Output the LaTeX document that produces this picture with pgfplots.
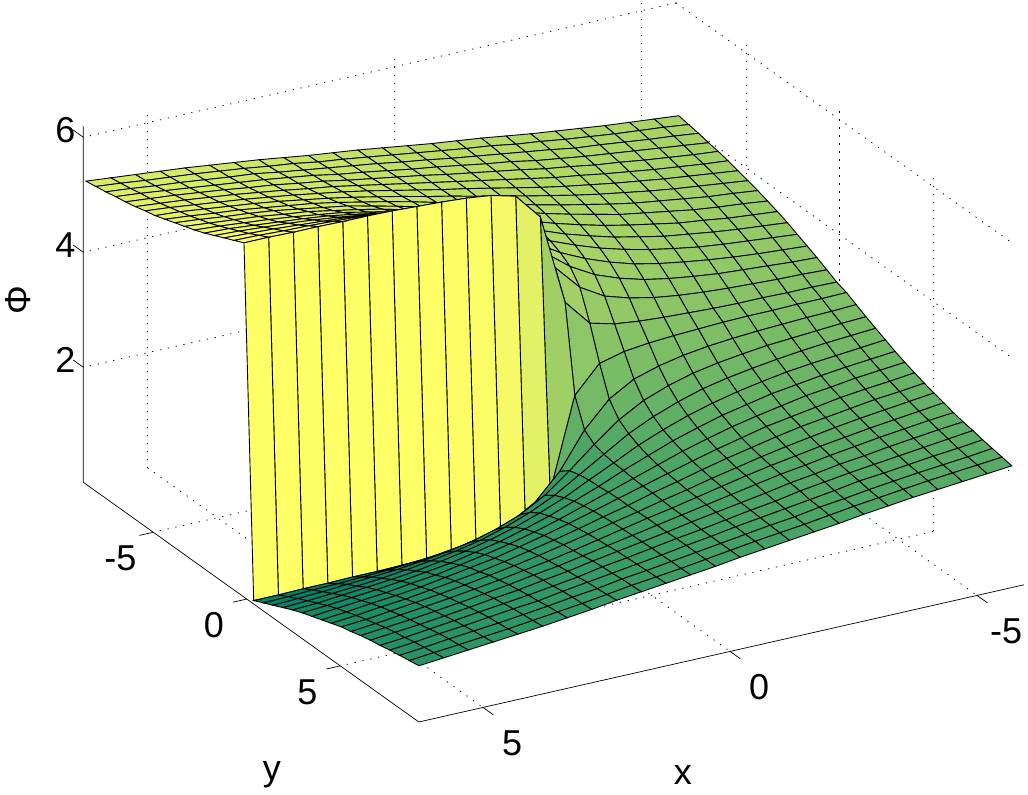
\documentclass[border=0pt]{standalone}
\usepackage{pgfplots}
\pgfplotsset{compat=1.18}
\usepackage{fontspec}
\setmainfont{Liberation Sans}
\begin{document}
\begin{tikzpicture}
\useasboundingbox (0,0) rectangle (514pt,397pt);
\begin{axis}[
  at={(279pt,132.75pt)},anchor=origin,
  x={(-24.7pt,-5.6pt)},y={(9.35pt,-6.68pt)},z={(0pt,28.75pt)},
  xmin=-5.7,xmax=6.3,ymin=-8.74,ymax=9.2,zmin=0,zmax=6.19,
  clip=false,
  axis line style={draw=none},
  grid=major,
  grid style={black,line width=0.4pt,dash pattern=on 0.6pt off 3.4pt},
  xtick={-5,0,5},ytick={-5,0,5},ztick={2,4,6},
  xticklabels={-5,0,5},yticklabels={-5,0,5},zticklabels={2,4,6},
  major tick length=0pt,
  every tick label/.append style={font=\fontsize{18}{20}\selectfont},
  xticklabel style={anchor=center,xshift=14.5pt,yshift=-18pt},
  yticklabel style={anchor=center,xshift=-16.5pt,yshift=-13pt},
  zticklabel style={anchor=center,xshift=-9pt,yshift=3.5pt},
  xlabel={x},ylabel={y},zlabel={Φ},
  label style={font=\fontsize{18}{20}\selectfont},
  x label style={at={(axis cs:3.383,15.61,0)},anchor=center},
  y label style={at={(axis cs:9.699,10.318,0)},anchor=center},
  z label style={at={(axis cs:3.385,-19.94,0)},anchor=center},
  colormap={summer}{rgb=(0,0.5,0.4) rgb=(1,1,0.4)},
]
\addplot3[surf,shader=flat corner,draw=black,line width=0.45pt,mesh/ordering=y varies,mesh/rows=35,mesh/cols=25] table {
-5.7 -8.60 4.07
-5.7 -8.07 4.04
-5.7 -7.54 4.01
-5.7 -7.01 3.97
-5.7 -6.49 3.94
-5.7 -5.96 3.90
-5.7 -5.43 3.85
-5.7 -4.90 3.80
-5.7 -4.37 3.75
-5.7 -3.85 3.69
-5.7 -3.32 3.63
-5.7 -2.79 3.56
-5.7 -2.26 3.48
-5.7 -1.73 3.40
-5.7 -1.21 3.32
-5.7 -.68 3.23
-5.7 -.15 3.14
-5.7 .37 3.08
-5.7 .89 2.99
-5.7 1.41 2.90
-5.7 1.93 2.82
-5.7 2.45 2.74
-5.7 2.97 2.66
-5.7 3.49 2.59
-5.7 4.01 2.53
-5.7 4.53 2.47
-5.7 5.05 2.42
-5.7 5.57 2.37
-5.7 6.09 2.32
-5.7 6.61 2.28
-5.7 7.13 2.25
-5.7 7.65 2.21
-5.7 8.17 2.18
-5.7 8.69 2.15
-5.7 9.21 2.12
-5.2 -8.60 4.11
-5.2 -8.07 4.09
-5.2 -7.54 4.06
-5.2 -7.01 4.02
-5.2 -6.49 3.98
-5.2 -5.96 3.94
-5.2 -5.43 3.90
-5.2 -4.90 3.85
-5.2 -4.37 3.80
-5.2 -3.85 3.74
-5.2 -3.32 3.67
-5.2 -2.79 3.60
-5.2 -2.26 3.52
-5.2 -1.73 3.43
-5.2 -1.21 3.34
-5.2 -.68 3.25
-5.2 -.15 3.15
-5.2 .37 3.07
-5.2 .89 2.97
-5.2 1.41 2.88
-5.2 1.93 2.79
-5.2 2.45 2.70
-5.2 2.97 2.62
-5.2 3.49 2.55
-5.2 4.01 2.48
-5.2 4.53 2.42
-5.2 5.05 2.37
-5.2 5.57 2.32
-5.2 6.09 2.28
-5.2 6.61 2.24
-5.2 7.13 2.20
-5.2 7.65 2.16
-5.2 8.17 2.13
-5.2 8.69 2.11
-5.2 9.21 2.08
-4.7 -8.60 4.15
-4.7 -8.07 4.13
-4.7 -7.54 4.10
-4.7 -7.01 4.07
-4.7 -6.49 4.03
-4.7 -5.96 3.99
-4.7 -5.43 3.95
-4.7 -4.90 3.90
-4.7 -4.37 3.84
-4.7 -3.85 3.78
-4.7 -3.32 3.71
-4.7 -2.79 3.64
-4.7 -2.26 3.56
-4.7 -1.73 3.46
-4.7 -1.21 3.37
-4.7 -.68 3.26
-4.7 -.15 3.15
-4.7 .37 3.07
-4.7 .89 2.96
-4.7 1.41 2.85
-4.7 1.93 2.76
-4.7 2.45 2.66
-4.7 2.97 2.58
-4.7 3.49 2.51
-4.7 4.01 2.44
-4.7 4.53 2.38
-4.7 5.05 2.32
-4.7 5.57 2.27
-4.7 6.09 2.23
-4.7 6.61 2.19
-4.7 7.13 2.15
-4.7 7.65 2.12
-4.7 8.17 2.09
-4.7 8.69 2.07
-4.7 9.21 2.04
-4.2 -8.60 4.19
-4.2 -8.07 4.17
-4.2 -7.54 4.15
-4.2 -7.01 4.12
-4.2 -6.49 4.08
-4.2 -5.96 4.04
-4.2 -5.43 4.00
-4.2 -4.90 3.95
-4.2 -4.37 3.90
-4.2 -3.85 3.83
-4.2 -3.32 3.77
-4.2 -2.79 3.69
-4.2 -2.26 3.60
-4.2 -1.73 3.50
-4.2 -1.21 3.40
-4.2 -.68 3.28
-4.2 -.15 3.16
-4.2 .37 3.06
-4.2 .89 2.94
-4.2 1.41 2.82
-4.2 1.93 2.72
-4.2 2.45 2.62
-4.2 2.97 2.53
-4.2 3.49 2.45
-4.2 4.01 2.39
-4.2 4.53 2.32
-4.2 5.05 2.27
-4.2 5.57 2.22
-4.2 6.09 2.18
-4.2 6.61 2.14
-4.2 7.13 2.10
-4.2 7.65 2.07
-4.2 8.17 2.05
-4.2 8.69 2.03
-4.2 9.21 2.00
-3.7 -8.60 4.24
-3.7 -8.07 4.22
-3.7 -7.54 4.20
-3.7 -7.01 4.17
-3.7 -6.49 4.14
-3.7 -5.96 4.10
-3.7 -5.43 4.06
-3.7 -4.90 4.01
-3.7 -4.37 3.96
-3.7 -3.85 3.90
-3.7 -3.32 3.82
-3.7 -2.79 3.75
-3.7 -2.26 3.65
-3.7 -1.73 3.55
-3.7 -1.21 3.43
-3.7 -.68 3.30
-3.7 -.15 3.16
-3.7 .37 3.06
-3.7 .89 2.92
-3.7 1.41 2.79
-3.7 1.93 2.67
-3.7 2.45 2.57
-3.7 2.97 2.47
-3.7 3.49 2.40
-3.7 4.01 2.32
-3.7 4.53 2.26
-3.7 5.05 2.21
-3.7 5.57 2.16
-3.7 6.09 2.12
-3.7 6.61 2.08
-3.7 7.13 2.05
-3.7 7.65 2.02
-3.7 8.17 2.00
-3.7 8.69 1.98
-3.7 9.21 1.96
-3.2 -8.60 4.29
-3.2 -8.07 4.27
-3.2 -7.54 4.24
-3.2 -7.01 4.22
-3.2 -6.49 4.19
-3.2 -5.96 4.16
-3.2 -5.43 4.12
-3.2 -4.90 4.08
-3.2 -4.37 4.02
-3.2 -3.85 3.97
-3.2 -3.32 3.90
-3.2 -2.79 3.81
-3.2 -2.26 3.72
-3.2 -1.73 3.61
-3.2 -1.21 3.48
-3.2 -.68 3.33
-3.2 -.15 3.17
-3.2 .37 3.05
-3.2 .89 2.89
-3.2 1.41 2.74
-3.2 1.93 2.61
-3.2 2.45 2.50
-3.2 2.97 2.41
-3.2 3.49 2.32
-3.2 4.01 2.25
-3.2 4.53 2.20
-3.2 5.05 2.14
-3.2 5.57 2.10
-3.2 6.09 2.06
-3.2 6.61 2.03
-3.2 7.13 2.00
-3.2 7.65 1.98
-3.2 8.17 1.95
-3.2 8.69 1.93
-3.2 9.21 1.91
-2.7 -8.60 4.34
-2.7 -8.07 4.33
-2.7 -7.54 4.31
-2.7 -7.01 4.28
-2.7 -6.49 4.26
-2.7 -5.96 4.23
-2.7 -5.43 4.19
-2.7 -4.90 4.15
-2.7 -4.37 4.10
-2.7 -3.85 4.04
-2.7 -3.32 3.98
-2.7 -2.79 3.90
-2.7 -2.26 3.80
-2.7 -1.73 3.68
-2.7 -1.21 3.54
-2.7 -.68 3.37
-2.7 -.15 3.19
-2.7 .37 3.03
-2.7 .89 2.85
-2.7 1.41 2.68
-2.7 1.93 2.54
-2.7 2.45 2.42
-2.7 2.97 2.32
-2.7 3.49 2.24
-2.7 4.01 2.18
-2.7 4.53 2.12
-2.7 5.05 2.07
-2.7 5.57 2.03
-2.7 6.09 1.99
-2.7 6.61 1.96
-2.7 7.13 1.94
-2.7 7.65 1.91
-2.7 8.17 1.89
-2.7 8.69 1.88
-2.7 9.21 1.86
-2.2 -8.60 4.40
-2.2 -8.07 4.38
-2.2 -7.54 4.37
-2.2 -7.01 4.34
-2.2 -6.49 4.32
-2.2 -5.96 4.29
-2.2 -5.43 4.26
-2.2 -4.90 4.23
-2.2 -4.37 4.19
-2.2 -3.85 4.14
-2.2 -3.32 4.07
-2.2 -2.79 3.99
-2.2 -2.26 3.90
-2.2 -1.73 3.77
-2.2 -1.21 3.62
-2.2 -.68 3.43
-2.2 -.15 3.21
-2.2 .37 3.01
-2.2 .89 2.79
-2.2 1.41 2.60
-2.2 1.93 2.45
-2.2 2.45 2.32
-2.2 2.97 2.23
-2.2 3.49 2.15
-2.2 4.01 2.08
-2.2 4.53 2.03
-2.2 5.05 1.99
-2.2 5.57 1.96
-2.2 6.09 1.93
-2.2 6.61 1.90
-2.2 7.13 1.88
-2.2 7.65 1.85
-2.2 8.17 1.84
-2.2 8.69 1.82
-2.2 9.21 1.80
-1.7 -8.60 4.46
-1.7 -8.07 4.45
-1.7 -7.54 4.43
-1.7 -7.01 4.42
-1.7 -6.49 4.40
-1.7 -5.96 4.37
-1.7 -5.43 4.34
-1.7 -4.90 4.32
-1.7 -4.37 4.28
-1.7 -3.85 4.24
-1.7 -3.32 4.18
-1.7 -2.79 4.11
-1.7 -2.26 4.02
-1.7 -1.73 3.90
-1.7 -1.21 3.74
-1.7 -.68 3.52
-1.7 -.15 3.24
-1.7 .37 2.98
-1.7 .89 2.70
-1.7 1.41 2.48
-1.7 1.93 2.32
-1.7 2.45 2.20
-1.7 2.97 2.11
-1.7 3.49 2.04
-1.7 4.01 1.98
-1.7 4.53 1.94
-1.7 5.05 1.90
-1.7 5.57 1.88
-1.7 6.09 1.85
-1.7 6.61 1.82
-1.7 7.13 1.80
-1.7 7.65 1.79
-1.7 8.17 1.77
-1.7 8.69 1.76
-1.7 9.21 1.75
-1.2 -8.60 4.51
-1.2 -8.07 4.50
-1.2 -7.54 4.49
-1.2 -7.01 4.48
-1.2 -6.49 4.47
-1.2 -5.96 4.45
-1.2 -5.43 4.43
-1.2 -4.90 4.41
-1.2 -4.37 4.38
-1.2 -3.85 4.35
-1.2 -3.32 4.30
-1.2 -2.79 4.24
-1.2 -2.26 4.17
-1.2 -1.73 4.06
-1.2 -1.21 3.90
-1.2 -.68 3.65
-1.2 -.15 3.29
-1.2 .37 2.93
-1.2 .89 2.57
-1.2 1.41 2.32
-1.2 1.93 2.16
-1.2 2.45 2.05
-1.2 2.97 1.98
-1.2 3.49 1.92
-1.2 4.01 1.87
-1.2 4.53 1.84
-1.2 5.05 1.81
-1.2 5.57 1.79
-1.2 6.09 1.77
-1.2 6.61 1.75
-1.2 7.13 1.74
-1.2 7.65 1.73
-1.2 8.17 1.72
-1.2 8.69 1.71
-1.2 9.21 1.70
-.7 -8.60 4.56
-.7 -8.07 4.56
-.7 -7.54 4.55
-.7 -7.01 4.55
-.7 -6.49 4.54
-.7 -5.96 4.53
-.7 -5.43 4.52
-.7 -4.90 4.51
-.7 -4.37 4.49
-.7 -3.85 4.47
-.7 -3.32 4.44
-.7 -2.79 4.40
-.7 -2.26 4.34
-.7 -1.73 4.26
-.7 -1.21 4.14
-.7 -.68 3.90
-.7 -.15 3.40
-.7 .37 2.82
-.7 .89 2.32
-.7 1.41 2.08
-.7 1.93 1.96
-.7 2.45 1.88
-.7 2.97 1.82
-.7 3.49 1.78
-.7 4.01 1.75
-.7 4.53 1.73
-.7 5.05 1.71
-.7 5.57 1.70
-.7 6.09 1.69
-.7 6.61 1.68
-.7 7.13 1.67
-.7 7.65 1.67
-.7 8.17 1.66
-.7 8.69 1.66
-.7 9.21 1.65
-.2 -8.60 4.62
-.2 -8.07 4.62
-.2 -7.54 4.62
-.2 -7.01 4.62
-.2 -6.49 4.61
-.2 -5.96 4.61
-.2 -5.43 4.61
-.2 -4.90 4.60
-.2 -4.37 4.59
-.2 -3.85 4.59
-.2 -3.32 4.58
-.2 -2.79 4.56
-.2 -2.26 4.55
-.2 -1.73 4.52
-.2 -1.21 4.47
-.2 -.68 4.34
-.2 -.15 3.86
-.2 .37 2.36
-.2 .89 1.88
-.2 1.41 1.75
-.2 1.93 1.70
-.2 2.45 1.67
-.2 2.97 1.66
-.2 3.49 1.64
-.2 4.01 1.63
-.2 4.53 1.63
-.2 5.05 1.62
-.2 5.57 1.61
-.2 6.09 1.61
-.2 6.61 1.61
-.2 7.13 1.60
-.2 7.65 1.60
-.2 8.17 1.60
-.2 8.69 1.60
-.2 9.21 1.60
.3 -8.60 4.68
.3 -8.07 4.68
.3 -7.54 4.68
.3 -7.01 4.68
.3 -6.49 4.69
.3 -5.96 4.69
.3 -5.43 4.69
.3 -4.90 4.70
.3 -4.37 4.71
.3 -3.85 4.71
.3 -3.32 4.72
.3 -2.79 4.74
.3 -2.26 4.75
.3 -1.73 4.78
.3 -1.21 4.83
.3 -.68 4.96
.3 -.15 5.44
.3 .37 .78
.3 .89 1.26
.3 1.41 1.39
.3 1.93 1.44
.3 2.45 1.47
.3 2.97 1.48
.3 3.49 1.50
.3 4.01 1.51
.3 4.53 1.51
.3 5.05 1.52
.3 5.57 1.53
.3 6.09 1.53
.3 6.61 1.53
.3 7.13 1.54
.3 7.65 1.54
.3 8.17 1.54
.3 8.69 1.54
.3 9.21 1.54
.8 -8.60 4.74
.8 -8.07 4.74
.8 -7.54 4.75
.8 -7.01 4.75
.8 -6.49 4.76
.8 -5.96 4.77
.8 -5.43 4.78
.8 -4.90 4.79
.8 -4.37 4.81
.8 -3.85 4.83
.8 -3.32 4.86
.8 -2.79 4.90
.8 -2.26 4.96
.8 -1.73 5.04
.8 -1.21 5.16
.8 -.68 5.40
.8 -.15 5.90
.8 .37 .32
.8 .89 .82
.8 1.41 1.06
.8 1.93 1.18
.8 2.45 1.26
.8 2.97 1.32
.8 3.49 1.36
.8 4.01 1.39
.8 4.53 1.41
.8 5.05 1.43
.8 5.57 1.44
.8 6.09 1.45
.8 6.61 1.46
.8 7.13 1.47
.8 7.65 1.47
.8 8.17 1.48
.8 8.69 1.48
.8 9.21 1.49
1.3 -8.60 4.79
1.3 -8.07 4.80
1.3 -7.54 4.81
1.3 -7.01 4.82
1.3 -6.49 4.83
1.3 -5.96 4.85
1.3 -5.43 4.87
1.3 -4.90 4.89
1.3 -4.37 4.92
1.3 -3.85 4.95
1.3 -3.32 5.00
1.3 -2.79 5.06
1.3 -2.26 5.13
1.3 -1.73 5.24
1.3 -1.21 5.40
1.3 -.68 5.65
1.3 -.15 6.01
1.3 .37 .21
1.3 .89 .57
1.3 1.41 .82
1.3 1.93 .98
1.3 2.45 1.09
1.3 2.97 1.16
1.3 3.49 1.22
1.3 4.01 1.27
1.3 4.53 1.30
1.3 5.05 1.33
1.3 5.57 1.35
1.3 6.09 1.37
1.3 6.61 1.39
1.3 7.13 1.40
1.3 7.65 1.41
1.3 8.17 1.42
1.3 8.69 1.43
1.3 9.21 1.44
1.8 -8.60 4.84
1.8 -8.07 4.85
1.8 -7.54 4.87
1.8 -7.01 4.88
1.8 -6.49 4.90
1.8 -5.96 4.93
1.8 -5.43 4.96
1.8 -4.90 4.98
1.8 -4.37 5.02
1.8 -3.85 5.06
1.8 -3.32 5.12
1.8 -2.79 5.19
1.8 -2.26 5.28
1.8 -1.73 5.40
1.8 -1.21 5.56
1.8 -.68 5.78
1.8 -.15 6.06
1.8 .37 .16
1.8 .89 .44
1.8 1.41 .66
1.8 1.93 .82
1.8 2.45 .94
1.8 2.97 1.03
1.8 3.49 1.10
1.8 4.01 1.16
1.8 4.53 1.20
1.8 5.05 1.24
1.8 5.57 1.26
1.8 6.09 1.29
1.8 6.61 1.32
1.8 7.13 1.34
1.8 7.65 1.35
1.8 8.17 1.37
1.8 8.69 1.38
1.8 9.21 1.39
2.3 -8.60 4.90
2.3 -8.07 4.92
2.3 -7.54 4.93
2.3 -7.01 4.96
2.3 -6.49 4.98
2.3 -5.96 5.01
2.3 -5.43 5.04
2.3 -4.90 5.07
2.3 -4.37 5.11
2.3 -3.85 5.16
2.3 -3.32 5.23
2.3 -2.79 5.31
2.3 -2.26 5.40
2.3 -1.73 5.53
2.3 -1.21 5.68
2.3 -.68 5.87
2.3 -.15 6.09
2.3 .37 .13
2.3 .89 .35
2.3 1.41 .54
2.3 1.93 .69
2.3 2.45 .82
2.3 2.97 .91
2.3 3.49 .99
2.3 4.01 1.06
2.3 4.53 1.11
2.3 5.05 1.15
2.3 5.57 1.18
2.3 6.09 1.21
2.3 6.61 1.24
2.3 7.13 1.26
2.3 7.65 1.29
2.3 8.17 1.30
2.3 8.69 1.32
2.3 9.21 1.34
2.8 -8.60 4.96
2.8 -8.07 4.97
2.8 -7.54 4.99
2.8 -7.01 5.02
2.8 -6.49 5.04
2.8 -5.96 5.07
2.8 -5.43 5.11
2.8 -4.90 5.15
2.8 -4.37 5.20
2.8 -3.85 5.26
2.8 -3.32 5.32
2.8 -2.79 5.40
2.8 -2.26 5.50
2.8 -1.73 5.62
2.8 -1.21 5.76
2.8 -.68 5.93
2.8 -.15 6.11
2.8 .37 .11
2.8 .89 .29
2.8 1.41 .46
2.8 1.93 .60
2.8 2.45 .72
2.8 2.97 .82
2.8 3.49 .90
2.8 4.01 .96
2.8 4.53 1.02
2.8 5.05 1.07
2.8 5.57 1.11
2.8 6.09 1.15
2.8 6.61 1.18
2.8 7.13 1.20
2.8 7.65 1.23
2.8 8.17 1.25
2.8 8.69 1.26
2.8 9.21 1.28
3.3 -8.60 5.01
3.3 -8.07 5.03
3.3 -7.54 5.06
3.3 -7.01 5.08
3.3 -6.49 5.11
3.3 -5.96 5.14
3.3 -5.43 5.18
3.3 -4.90 5.22
3.3 -4.37 5.28
3.3 -3.85 5.33
3.3 -3.32 5.40
3.3 -2.79 5.49
3.3 -2.26 5.58
3.3 -1.73 5.69
3.3 -1.21 5.82
3.3 -.68 5.97
3.3 -.15 6.13
3.3 .37 .09
3.3 .89 .25
3.3 1.41 .40
3.3 1.93 .53
3.3 2.45 .64
3.3 2.97 .73
3.3 3.49 .82
3.3 4.01 .89
3.3 4.53 .94
3.3 5.05 1.00
3.3 5.57 1.04
3.3 6.09 1.08
3.3 6.61 1.11
3.3 7.13 1.14
3.3 7.65 1.16
3.3 8.17 1.19
3.3 8.69 1.21
3.3 9.21 1.23
3.8 -8.60 5.06
3.8 -8.07 5.08
3.8 -7.54 5.10
3.8 -7.01 5.13
3.8 -6.49 5.16
3.8 -5.96 5.20
3.8 -5.43 5.24
3.8 -4.90 5.29
3.8 -4.37 5.34
3.8 -3.85 5.40
3.8 -3.32 5.48
3.8 -2.79 5.55
3.8 -2.26 5.65
3.8 -1.73 5.75
3.8 -1.21 5.87
3.8 -.68 6.00
3.8 -.15 6.14
3.8 .37 .08
3.8 .89 .22
3.8 1.41 .35
3.8 1.93 .47
3.8 2.45 .57
3.8 2.97 .67
3.8 3.49 .74
3.8 4.01 .82
3.8 4.53 .88
3.8 5.05 .93
3.8 5.57 .98
3.8 6.09 1.02
3.8 6.61 1.06
3.8 7.13 1.09
3.8 7.65 1.12
3.8 8.17 1.14
3.8 8.69 1.16
3.8 9.21 1.18
4.3 -8.60 5.11
4.3 -8.07 5.13
4.3 -7.54 5.15
4.3 -7.01 5.18
4.3 -6.49 5.22
4.3 -5.96 5.26
4.3 -5.43 5.30
4.3 -4.90 5.35
4.3 -4.37 5.40
4.3 -3.85 5.47
4.3 -3.32 5.53
4.3 -2.79 5.61
4.3 -2.26 5.70
4.3 -1.73 5.80
4.3 -1.21 5.90
4.3 -.68 6.02
4.3 -.15 6.14
4.3 .37 .08
4.3 .89 .20
4.3 1.41 .32
4.3 1.93 .42
4.3 2.45 .52
4.3 2.97 .61
4.3 3.49 .69
4.3 4.01 .75
4.3 4.53 .82
4.3 5.05 .87
4.3 5.57 .92
4.3 6.09 .96
4.3 6.61 1.00
4.3 7.13 1.04
4.3 7.65 1.07
4.3 8.17 1.09
4.3 8.69 1.11
4.3 9.21 1.14
4.8 -8.60 5.15
4.8 -8.07 5.17
4.8 -7.54 5.20
4.8 -7.01 5.23
4.8 -6.49 5.27
4.8 -5.96 5.31
4.8 -5.43 5.35
4.8 -4.90 5.40
4.8 -4.37 5.46
4.8 -3.85 5.52
4.8 -3.32 5.59
4.8 -2.79 5.66
4.8 -2.26 5.74
4.8 -1.73 5.84
4.8 -1.21 5.93
4.8 -.68 6.04
4.8 -.15 6.15
4.8 .37 .07
4.8 .89 .18
4.8 1.41 .29
4.8 1.93 .38
4.8 2.45 .48
4.8 2.97 .56
4.8 3.49 .63
4.8 4.01 .70
4.8 4.53 .76
4.8 5.05 .82
4.8 5.57 .87
4.8 6.09 .91
4.8 6.61 .95
4.8 7.13 .99
4.8 7.65 1.02
4.8 8.17 1.05
4.8 8.69 1.07
4.8 9.21 1.10
5.3 -8.60 5.19
5.3 -8.07 5.21
5.3 -7.54 5.24
5.3 -7.01 5.28
5.3 -6.49 5.32
5.3 -5.96 5.36
5.3 -5.43 5.40
5.3 -4.90 5.45
5.3 -4.37 5.50
5.3 -3.85 5.56
5.3 -3.32 5.63
5.3 -2.79 5.70
5.3 -2.26 5.78
5.3 -1.73 5.87
5.3 -1.21 5.96
5.3 -.68 6.05
5.3 -.15 6.15
5.3 .37 .07
5.3 .89 .17
5.3 1.41 .26
5.3 1.93 .35
5.3 2.45 .44
5.3 2.97 .52
5.3 3.49 .59
5.3 4.01 .66
5.3 4.53 .72
5.3 5.05 .77
5.3 5.57 .82
5.3 6.09 .86
5.3 6.61 .90
5.3 7.13 .94
5.3 7.65 .98
5.3 8.17 1.01
5.3 8.69 1.03
5.3 9.21 1.06
5.8 -8.60 5.23
5.8 -8.07 5.26
5.8 -7.54 5.29
5.8 -7.01 5.33
5.8 -6.49 5.36
5.8 -5.96 5.40
5.8 -5.43 5.45
5.8 -4.90 5.50
5.8 -4.37 5.55
5.8 -3.85 5.61
5.8 -3.32 5.67
5.8 -2.79 5.74
5.8 -2.26 5.82
5.8 -1.73 5.90
5.8 -1.21 5.98
5.8 -.68 6.07
5.8 -.15 6.16
5.8 .37 .06
5.8 .89 .15
5.8 1.41 .24
5.8 1.93 .32
5.8 2.45 .40
5.8 2.97 .48
5.8 3.49 .55
5.8 4.01 .61
5.8 4.53 .67
5.8 5.05 .72
5.8 5.57 .77
5.8 6.09 .82
5.8 6.61 .86
5.8 7.13 .89
5.8 7.65 .93
5.8 8.17 .96
5.8 8.69 .99
5.8 9.21 1.02
6.3 -8.60 5.27
6.3 -8.07 5.30
6.3 -7.54 5.33
6.3 -7.01 5.37
6.3 -6.49 5.40
6.3 -5.96 5.44
6.3 -5.43 5.49
6.3 -4.90 5.53
6.3 -4.37 5.59
6.3 -3.85 5.65
6.3 -3.32 5.71
6.3 -2.79 5.77
6.3 -2.26 5.84
6.3 -1.73 5.92
6.3 -1.21 6.00
6.3 -.68 6.08
6.3 -.15 6.16
6.3 .37 .06
6.3 .89 .14
6.3 1.41 .22
6.3 1.93 .30
6.3 2.45 .38
6.3 2.97 .45
6.3 3.49 .51
6.3 4.01 .57
6.3 4.53 .63
6.3 5.05 .69
6.3 5.57 .73
6.3 6.09 .78
6.3 6.61 .82
6.3 7.13 .85
6.3 7.65 .89
6.3 8.17 .92
6.3 8.69 .95
6.3 9.21 .98
};
\draw[black,line width=0.35pt] (axis cs:-5.95,9.2,0)--(axis cs:6.3,9.2,0)--(axis cs:6.3,-8.74,0)--(axis cs:6.3,-8.74,6.19);
\draw[black,line width=0.35pt] (axis cs:-5,9.2,0)--(axis cs:-5,9.75,0);
\draw[black,line width=0.35pt] (axis cs:0,9.2,0)--(axis cs:0,9.75,0);
\draw[black,line width=0.35pt] (axis cs:5,9.2,0)--(axis cs:5,9.75,0);
\draw[black,line width=0.35pt] (axis cs:6.3,-5,0)--(axis cs:6.58,-5,0);
\draw[black,line width=0.35pt] (axis cs:6.3,0,0)--(axis cs:6.58,0,0);
\draw[black,line width=0.35pt] (axis cs:6.3,5,0)--(axis cs:6.58,5,0);
\draw[black,line width=0.35pt] (axis cs:6.3,-8.74,2)--(axis cs:6.3,-9.29,2);
\draw[black,line width=0.35pt] (axis cs:6.3,-8.74,4)--(axis cs:6.3,-9.29,4);
\draw[black,line width=0.35pt] (axis cs:6.3,-8.74,6)--(axis cs:6.3,-9.29,6);
\end{axis}
\end{tikzpicture}
\end{document}
